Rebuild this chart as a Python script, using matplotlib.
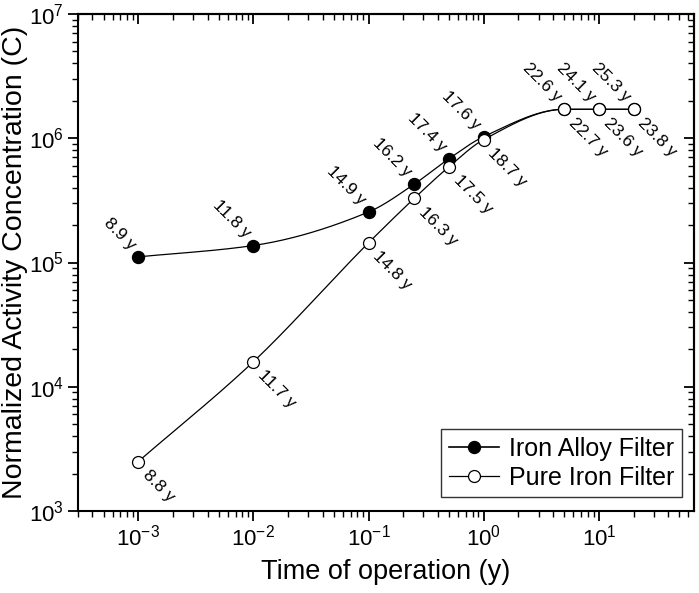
import numpy as np
import matplotlib
matplotlib.use('Agg')
import matplotlib.pyplot as plt

plt.rcParams['font.family'] = ['Liberation Sans', 'DejaVu Sans']
plt.rcParams['mathtext.fontset'] = 'custom'
plt.rcParams['mathtext.rm'] = 'Liberation Sans'
plt.rcParams['axes.unicode_minus'] = False

# data
time_y = [1e-3, 1e-2, 0.1, 0.25, 0.5, 1.0, 5.0, 10.0, 20.0]
alloy_conc = [1.11e5, 1.37e5, 2.55e5, 4.28e5, 6.85e5, 1.03e6, 1.71e6, 1.71e6, 1.71e6]
pure_conc = [2.5e3, 1.59e4, 1.44e5, 3.29e5, 5.9e5, 9.75e5, 1.71e6, 1.71e6, 1.71e6]
alloy_labels = ['8.9 y', '11.8 y', '14.9 y', '16.2 y', '17.4 y', '17.6 y', '22.6 y', '24.1 y', '25.3 y']
pure_labels = ['8.8 y', '11.7 y', '14.8 y', '16.3 y', '17.5 y', '18.7 y', '22.7 y', '23.6 y', '23.8 y']


def pchip_curve(x, y, n=60):
    # smooth connecting line (monotone cubic in log-log space), like Origin's spline line
    lx = np.log10(np.asarray(x, float))
    ly = np.log10(np.asarray(y, float))
    h = np.diff(lx)
    d = np.diff(ly) / h
    m = np.zeros_like(lx)
    for k in range(1, len(lx) - 1):
        if d[k - 1] * d[k] > 0:
            w1 = 2 * h[k] + h[k - 1]
            w2 = h[k] + 2 * h[k - 1]
            m[k] = (w1 + w2) / (w1 / d[k - 1] + w2 / d[k])
    m[0] = d[0]
    m[-1] = d[-1]
    xs, ys = [], []
    for k in range(len(h)):
        t = np.linspace(0, 1, n)
        h00 = 2 * t**3 - 3 * t**2 + 1
        h10 = t**3 - 2 * t**2 + t
        h01 = -2 * t**3 + 3 * t**2
        h11 = t**3 - t**2
        xs.append(lx[k] + t * h[k])
        ys.append(h00 * ly[k] + h10 * h[k] * m[k] + h01 * ly[k + 1] + h11 * h[k] * m[k + 1])
    return 10 ** np.concatenate(xs), 10 ** np.concatenate(ys)


fig = plt.figure(figsize=(6.99, 5.93), dpi=100)
ax = fig.add_axes([78 / 699, 1 - 511 / 593, 616 / 699, 497 / 593])

cx, cy = pchip_curve(time_y, alloy_conc)
ax.plot(cx, cy, color='black', lw=0.9, zorder=2)
ax.plot(time_y, alloy_conc, ls='none', marker='o', ms=8.6, mfc='black', mec='black', zorder=3)
cx, cy = pchip_curve(time_y, pure_conc)
ax.plot(cx, cy, color='black', lw=0.9, zorder=4)
ax.plot(time_y, pure_conc, ls='none', marker='o', ms=8.6, mfc='white', mec='black', mew=0.9, zorder=5)

# legend handles
ax.plot([], [], color='black', lw=1.2, marker='o', ms=8.6, mfc='black', mec='black', label='Iron Alloy Filter')
ax.plot([], [], color='black', lw=0.9, marker='o', ms=8.6, mfc='white', mec='black', mew=0.9, label='Pure Iron Filter')

for xv, yv, lab in zip(time_y, alloy_conc, alloy_labels):
    ax.annotate(lab, (xv, yv), xytext=(-4, 7), textcoords='offset points',
                rotation=-45, rotation_mode='anchor', ha='right', va='center', fontsize=12.5)
for xv, yv, lab in zip(time_y, pure_conc, pure_labels):
    ax.annotate(lab, (xv, yv), xytext=(5, -8), textcoords='offset points',
                rotation=-45, rotation_mode='anchor', ha='left', va='center', fontsize=12.5)

ax.set_xscale('log')
ax.set_yscale('log')
ax.set_xlim(3e-4, 67)
ax.set_ylim(1e3, 1e7)

for s in ax.spines.values():
    s.set_linewidth(1.5)
ax.tick_params(which='both', direction='out', top=False, right=False, labelsize=16, pad=3)
ax.tick_params(which='major', length=7, width=1.3)
ax.tick_params(which='minor', length=4, width=1.0)
ax.xaxis.set_minor_locator(matplotlib.ticker.LogLocator(base=10, subs=np.arange(2, 10), numticks=20))
ax.yaxis.set_minor_locator(matplotlib.ticker.LogLocator(base=10, subs=np.arange(2, 10), numticks=20))
ax.xaxis.set_minor_formatter(matplotlib.ticker.NullFormatter())
ax.yaxis.set_minor_formatter(matplotlib.ticker.NullFormatter())

# inward ticks on top and right, no labels
sec_x = ax.secondary_xaxis('top')
sec_x.set_xscale('log')
sec_x.tick_params(which='both', direction='in', labeltop=False)
sec_x.tick_params(which='major', length=7, width=1.3)
sec_x.tick_params(which='minor', length=4, width=1.0)
sec_x.xaxis.set_minor_locator(matplotlib.ticker.LogLocator(base=10, subs=np.arange(2, 10), numticks=20))
sec_x.spines['top'].set_linewidth(1.5)
sec_y = ax.secondary_yaxis('right')
sec_y.tick_params(which='both', direction='in', labelright=False)
sec_y.tick_params(which='major', length=7, width=1.3)
sec_y.tick_params(which='minor', length=4, width=1.0)
sec_y.yaxis.set_minor_locator(matplotlib.ticker.LogLocator(base=10, subs=np.arange(2, 10), numticks=20))
sec_y.spines['right'].set_linewidth(1.5)

ax.set_xlabel('Time of operation (y)', fontsize=19.5, labelpad=6)
ax.set_ylabel('Normalized Activity Concentration (C)', fontsize=20.5, labelpad=1)

leg = ax.legend(loc='lower right', bbox_to_anchor=(0.98, 0.028), borderaxespad=0,
                fontsize=18, frameon=True, fancybox=False, handlelength=2.0,
                handletextpad=0.4, borderpad=0.3, labelspacing=0.2)
leg.get_frame().set_edgecolor('black')
leg.get_frame().set_linewidth(1.0)

fig.savefig('out.png', dpi=100)
